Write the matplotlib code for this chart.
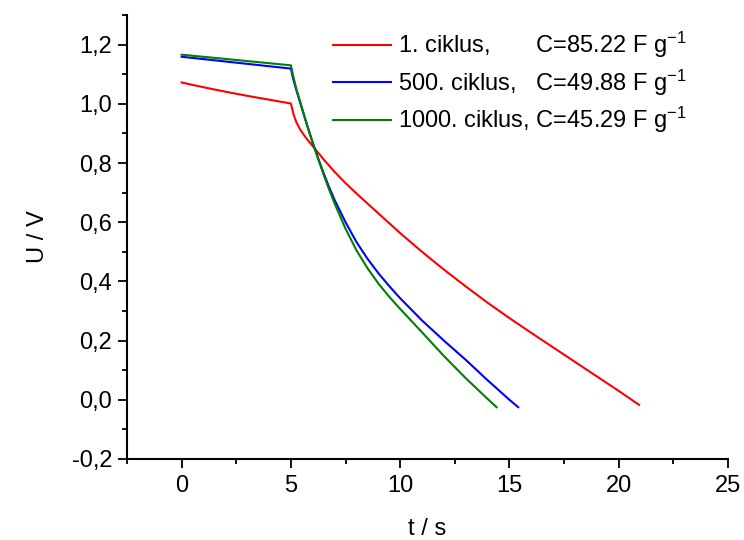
import numpy as np
import matplotlib
matplotlib.use('Agg')
import matplotlib.pyplot as plt
from matplotlib.ticker import MultipleLocator, FuncFormatter

plt.rcParams['font.family'] = ['Liberation Sans', 'DejaVu Sans']
plt.rcParams['mathtext.fontset'] = 'custom'
plt.rcParams['mathtext.rm'] = 'Liberation Sans'
plt.rcParams['mathtext.it'] = 'Liberation Sans'

# galvanostatic discharge curves
t_1 = [0, 1, 2, 3, 4, 5.0, 5.05, 5.13, 5.25, 5.43, 5.7, 6.1, 6.5, 7.0, 7.5, 8.0, 9.0, 10, 11, 12,
       13, 14, 15, 16, 17, 18, 19, 20, 20.93]
u_1 = [1.072, 1.056, 1.041, 1.027, 1.014, 1.001, 0.985, 0.962, 0.938, 0.912, 0.884, 0.848, 0.812,
       0.770, 0.732, 0.697, 0.630, 0.563, 0.500, 0.440, 0.383, 0.328, 0.276, 0.226, 0.177, 0.128,
       0.079, 0.030, -0.017]

t_500 = [0, 2.5, 5.0, 5.1, 5.25, 5.5, 5.75, 6.0, 6.25, 6.5, 6.75, 7.0, 7.5, 8.0, 8.5, 9.0, 9.5,
         10, 11, 12, 13, 14, 15, 15.40]
u_500 = [1.159, 1.139, 1.119, 1.085, 1.046, 0.985, 0.925, 0.868, 0.815, 0.765, 0.718, 0.675, 0.600,
         0.533, 0.477, 0.428, 0.384, 0.343, 0.268, 0.200, 0.135, 0.066, 0.000, -0.025]

t_1000 = [0, 2.5, 5.0, 5.1, 5.25, 5.5, 5.75, 6.0, 6.25, 6.5, 6.75, 7.0, 7.5, 8.0, 8.5, 9.0, 9.5,
          10, 11, 12, 13, 14, 14.41]
u_1000 = [1.166, 1.148, 1.130, 1.095, 1.050, 0.988, 0.926, 0.868, 0.813, 0.760, 0.710, 0.663, 0.578,
          0.505, 0.445, 0.393, 0.348, 0.307, 0.228, 0.148, 0.073, 0.003, -0.025]

labels = ['1. ciklus,       C=85.22 F g$^{-1}$',
          '500. ciklus,   C=49.88 F g$^{-1}$',
          '1000. ciklus, C=45.29 F g$^{-1}$']
colors = ['#ff0000', '#0000ff', '#008000']

fig = plt.figure(figsize=(7.44, 5.4), dpi=100)
ax = fig.add_axes([0.1707, 0.15, 0.8078, 0.8222])

for t, u, lab, c in zip([t_1, t_500, t_1000], [u_1, u_500, u_1000], labels, colors):
    ax.plot(t, u, color=c, lw=1.5, label=lab)

ax.set_xlim(-2.5, 25)
ax.set_ylim(-0.2, 1.3)
ax.xaxis.set_major_locator(MultipleLocator(5))
ax.xaxis.set_minor_locator(MultipleLocator(2.5))
ax.yaxis.set_major_locator(MultipleLocator(0.2))
ax.yaxis.set_minor_locator(MultipleLocator(0.1))
ax.yaxis.set_major_formatter(FuncFormatter(lambda v, p: f'{v:.1f}'.replace('.', ',').replace('−', '-')))
ax.xaxis.set_major_formatter(FuncFormatter(lambda v, p: f'{v:g}'))

for s in ['top', 'right']:
    ax.spines[s].set_visible(False)
for s in ['left', 'bottom']:
    ax.spines[s].set_linewidth(1.5)
ax.tick_params(which='major', direction='out', length=6.7, width=1.3, labelsize=17)
ax.tick_params(which='minor', direction='out', length=3.6, width=1.3)
ax.tick_params(axis='y', pad=4)
ax.tick_params(axis='x', pad=5)

ax.set_xlabel('t / s', fontsize=17, labelpad=15)
ax.set_ylabel('U / V', fontsize=17, labelpad=16)

ax.legend(loc='upper left', bbox_to_anchor=(0.343, 0.966), frameon=False, fontsize=17,
          handlelength=2.46, handletextpad=0.3, labelspacing=0.3, borderpad=0, borderaxespad=0)

fig.savefig('out.png', dpi=100)
